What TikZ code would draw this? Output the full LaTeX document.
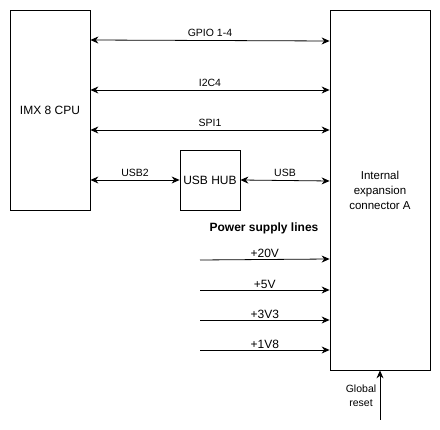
\documentclass[tikz,border=0pt]{standalone}
\usepackage{fontspec}
\setmainfont{Liberation Sans}
\usetikzlibrary{arrows.meta,positioning}

\begin{document}
\begin{tikzpicture}[x=1pt, y=-1pt,
    block/.style={draw, line width=0.8pt, inner sep=0pt, font=\fontsize{12}{14}\selectfont, align=center},
    link/.style={line width=0.8pt, {Stealth[length=8pt,width=7pt]}-{Stealth[length=8pt,width=7pt]}},
    feed/.style={line width=0.8pt, -{Stealth[length=8pt,width=7pt]}},
    lbl/.style={font=\fontsize{10.5}{12}\selectfont, inner sep=1pt},
    vlbl/.style={font=\fontsize{12}{14}\selectfont, inner sep=1pt},
    note/.style={font=\fontsize{10.5}{13.5}\selectfont, align=center, inner sep=0pt}
]
\useasboundingbox (0,0) rectangle (440,430);

%% Blocks
\node[block, minimum width=80pt, minimum height=200pt] (cpu) at (50,110) {IMX 8 CPU};
\node[block, minimum width=100pt, minimum height=360pt] (conn) at (380,190) {};
\node[font=\fontsize{11.5}{15}\selectfont, align=center] (connlabel) at (380,190) {Internal\\expansion\\connector A};
\node[block, minimum width=60pt, minimum height=60pt] (hub) at (210,180) {USB HUB};

%% Bus lines CPU -> connector
\draw[link] (cpu.east |- 0,40) -- node[lbl, above=2pt] {GPIO 1-4} (conn.west |- 0,41);
\draw[link] (cpu.east |- 0,90) -- node[lbl, above=2pt] {I2C4} (conn.west |- 0,90);
\draw[link] (cpu.east |- 0,130) -- node[lbl, above=2pt] {SPI1} (conn.west |- 0,130);

%% USB path through the hub
\draw[link] (cpu.east |- hub) -- node[lbl, above=2pt] {USB2} (hub.west);
\draw[link] (hub.east) -- node[lbl, above=2pt] {USB} (conn.west |- 0,181);

%% Power supply lines
\node[font=\fontsize{12}{14}\selectfont\bfseries] (power) at (264,228) {Power supply lines};
\coordinate (p20) at (200,260);
\coordinate (p5) at (200,290);
\coordinate (p33) at (200,320);
\coordinate (p18) at (200,350);
\draw[feed] (p20) -- node[vlbl, above=0pt] {+20V} (conn.west |- 0,259);
\draw[feed] (p5) -- node[vlbl, above=0pt] {+5V} (conn.west |- 0,290);
\draw[feed] (p33) -- node[vlbl, above=0pt] {+3V3} (conn.west |- 0,320);
\draw[feed] (p18) -- node[vlbl, above=0pt] {+1V8} (conn.west |- 0,350);

%% Reset
\coordinate (rst) at (380,420);
\draw[feed] (rst) -- (conn.south);
\node[note] (rstlabel) at (361,396) {Global\\reset};

\end{tikzpicture}
\end{document}
